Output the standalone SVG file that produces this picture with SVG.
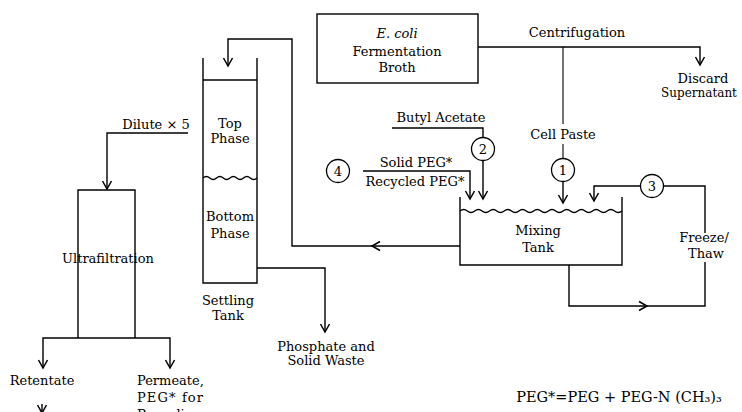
<svg xmlns="http://www.w3.org/2000/svg" width="742" height="412" viewBox="0 0 742 412">
<defs>
<marker id="ah" viewBox="-10 -6 12 12" refX="0" refY="0" markerWidth="12" markerHeight="12" markerUnits="userSpaceOnUse" orient="auto">
<path d="M-8,-4.5 L0,0 L-8,4.5" fill="none" stroke="#000" stroke-width="1.5"/>
</marker>
</defs>
<style>
.ln{fill:none;stroke:#000;stroke-width:1.4}
.th{fill:none;stroke:#000;stroke-width:1.1}
.ar{marker-end:url(#ah)}
.t{font-family:"DejaVu Serif","Liberation Serif",serif;font-size:13px;fill:#000;text-anchor:middle}
.ts{text-anchor:start}
.it{font-style:italic}
.cc{fill:#fff;stroke:#000;stroke-width:1.3}
</style>
<rect width="742" height="412" fill="#fff"/>

<g id="connectors">
<path class="ln ar" d="M478,47 H700 V65"/>
<path class="th" d="M563,47 V124 M563,144 V158.5"/>
<path class="ln ar" d="M563,181.5 V203"/>
<path class="ln" d="M392,128 H483 V137.5"/>
<path class="ln ar" d="M483,160.5 V199"/>
<path class="ln ar" d="M363,171 H470 V199"/>
<path class="ln ar" d="M460,246 H372"/>
<path class="ln ar" d="M372,246 H292 V39 H228 V66"/>
<path class="ln ar" d="M257,268 H325 V332"/>
<path class="ln ar" d="M188,133 H107 V189"/>
<path class="ln ar" d="M107,338 H43 V368"/>
<path class="ln ar" d="M107,338 H170 V368"/>
<path class="ln ar" d="M42,404 V413"/>
<path class="ln ar" d="M569,265 V306 H647"/>
<path class="ln" d="M647,306 H705 V262 M705,233 V186 H663.5"/>
<path class="ln ar" d="M640.5,186 H594 V201"/>
</g>

<g id="ecoli-broth">
<rect x="317" y="14" width="161" height="69" class="ln"/>
<text class="t it" x="397" y="38">E. coli</text>
<text class="t" x="397" y="56">Fermentation</text>
<text class="t" x="397" y="72">Broth</text>
</g>

<g id="centrifugation">
<text class="t" x="577" y="37">Centrifugation</text>
</g>

<g id="discard">
<text class="t" x="703" y="83">Discard</text>
<text class="t" x="699" y="97" style="font-size:12px">Supernatant</text>
</g>

<g id="cell-paste">
<text class="t" x="563" y="139">Cell Paste</text>
</g>

<g id="step1">
<circle cx="563" cy="170" r="11.5" class="cc"/>
<text class="t" x="563" y="174.5">1</text>
</g>

<g id="butyl-acetate">
<text class="t" x="441" y="122">Butyl Acetate</text>
</g>

<g id="step2">
<circle cx="483" cy="149" r="11.5" class="cc"/>
<text class="t" x="483" y="153.5">2</text>
</g>

<g id="step4">
<circle cx="338" cy="171" r="11.5" class="cc"/>
<text class="t" x="338" y="175.5">4</text>
</g>

<g id="peg-feed">
<text class="t" x="416" y="167">Solid PEG*</text>
<text class="t" x="415" y="186">Recycled PEG*</text>
</g>

<g id="step3">
<circle cx="652" cy="186" r="11.5" class="cc"/>
<text class="t" x="652" y="190.5">3</text>
</g>

<g id="mixing-tank">
<path class="ln" d="M460,197 V265 H622 V197"/>
<path class="ln" d="M460,211 q3.68,-3.2 7.36,0 t7.36,0 t7.36,0 t7.36,0 t7.36,0 t7.36,0 t7.36,0 t7.36,0 t7.36,0 t7.36,0 t7.36,0 t7.36,0 t7.36,0 t7.36,0 t7.36,0 t7.36,0 t7.36,0 t7.36,0 t7.36,0 t7.36,0 t7.36,0 t7.36,0"/>
<text class="t" x="538" y="235">Mixing</text>
<text class="t" x="538" y="252">Tank</text>
</g>

<g id="freeze-thaw">
<text class="t" x="704" y="242">Freeze/</text>
<text class="t" x="706" y="258">Thaw</text>
</g>

<g id="settling-tank">
<path class="ln" d="M203,58 V283 H257 V58"/>
<path class="ln" d="M203,80 H257"/>
<path class="ln" d="M203,178 q3.375,-3 6.75,0 t6.75,0 t6.75,0 t6.75,0 t6.75,0 t6.75,0 t6.75,0 t6.75,0"/>
<text class="t" x="230" y="128">Top</text>
<text class="t" x="230" y="143">Phase</text>
<text class="t" x="230" y="221">Bottom</text>
<text class="t" x="230" y="238">Phase</text>
<text class="t" x="228" y="305">Settling</text>
<text class="t" x="228" y="320">Tank</text>
</g>

<g id="waste">
<text class="t" x="326" y="351">Phosphate and</text>
<text class="t" x="326" y="365">Solid Waste</text>
</g>

<g id="dilute">
<text class="t" x="156" y="129">Dilute × 5</text>
</g>

<g id="ultrafiltration">
<path class="ln" d="M78,338 V190 H135 V338"/>
<text class="t" x="108" y="263">Ultrafiltration</text>
</g>

<g id="retentate">
<text class="t" x="42" y="385">Retentate</text>
</g>

<g id="permeate">
<text class="t ts" x="137" y="385">Permeate,</text>
<text class="t ts" x="137" y="402" textLength="66" lengthAdjust="spacing">PEG* for</text>
<text class="t ts" x="137" y="419">Recycling</text>
</g>

<g id="legend">
<text class="t" x="619" y="402" style="font-size:14.5px">PEG*=PEG + PEG-N (CH₃)₃</text>
</g>
</svg>
